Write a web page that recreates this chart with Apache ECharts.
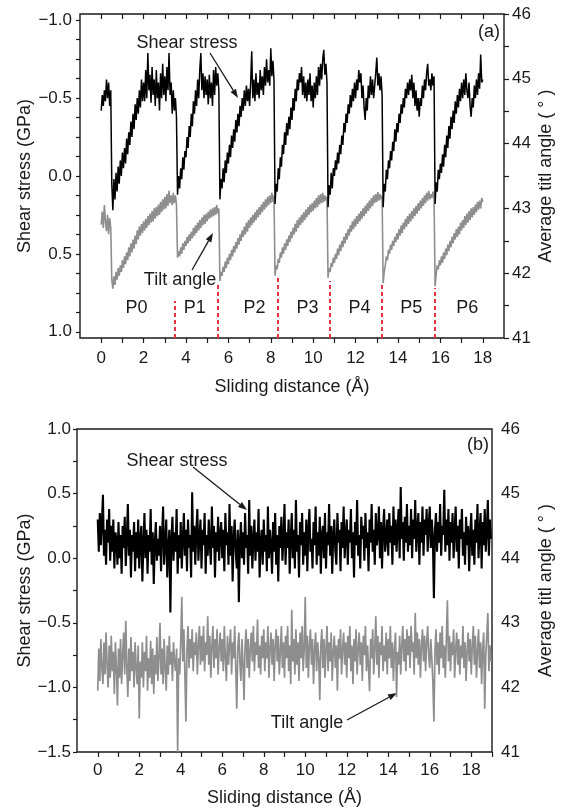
<!DOCTYPE html>
<html>
<head>
<meta charset="utf-8">
<script src="https://cdn.jsdelivr.net/npm/echarts@6/dist/echarts.min.js"></script>
<style>
  html, body { margin: 0; padding: 0; background: #fff; }
  #chart { width: 563px; height: 811px; }
</style>
</head>
<body>
<div id="chart"></div>
<script>
// panel (a): sampled every 0.05 Å from 0 to 18 (upper / lower edge of the noisy trace)
const stepA = 0.05;
// shear stress (GPa), panel (a)
const shearA = [
  -0.42, -0.52, -0.45, -0.55, -0.48, -0.62, -0.5, -0.6, -0.45, -0.55, 0.05, 0.22, 0.02, 0.15, -0.02, 0.1, -0.06, 0.05, -0.1, 0.0,
  -0.15, -0.05, -0.18, -0.08, -0.24, -0.14, -0.28, -0.2, -0.35, -0.25, -0.4, -0.3, -0.46, -0.36, -0.5, -0.4, -0.55, -0.44, -0.62, -0.48,
  -0.6, -0.48, -0.68, -0.5, -0.79, -0.55, -0.65, -0.47, -0.7, -0.52, -0.62, -0.45, -0.68, -0.5, -0.6, -0.42, -0.66, -0.5, -0.72, -0.52,
  -0.64, -0.48, -0.7, -0.55, -0.79, -0.52, -0.6, -0.4, -0.55, -0.42, -0.5, -0.38, 0.12, 0.0, 0.08, -0.05, 0.02, -0.12, -0.04, -0.16,
  -0.12, -0.25, -0.18, -0.32, -0.25, -0.4, -0.32, -0.48, -0.4, -0.55, -0.45, -0.62, -0.5, -0.68, -0.79, -0.55, -0.66, -0.5, -0.64, -0.52,
  -0.62, -0.46, -0.65, -0.5, -0.6, -0.45, -0.68, -0.52, -0.7, -0.58, -0.66, -0.55, 0.15, 0.02, 0.08, -0.05, 0.04, -0.1, -0.02, -0.15,
  -0.08, -0.2, -0.12, -0.26, -0.18, -0.3, -0.22, -0.36, -0.28, -0.4, -0.32, -0.45, -0.38, -0.5, -0.42, -0.55, -0.45, -0.58, -0.48, -0.56,
  -0.45, -0.6, -0.8, -0.5, -0.62, -0.48, -0.66, -0.52, -0.6, -0.5, -0.68, -0.55, -0.64, -0.52, -0.7, -0.58, -0.75, -0.6, -0.68, -0.58,
  -0.82, -0.64, -0.74, -0.62, 0.18, 0.05, 0.1, -0.05, 0.02, -0.12, -0.06, -0.2, -0.14, -0.28, -0.2, -0.34, -0.26, -0.38, -0.3, -0.44,
  -0.36, -0.5, -0.42, -0.56, -0.48, -0.62, -0.55, -0.66, -0.6, -0.7, -0.52, -0.64, -0.5, -0.6, -0.48, -0.62, -0.52, -0.66, -0.48, -0.58,
  -0.44, -0.6, -0.5, -0.64, -0.52, -0.7, -0.58, -0.72, -0.62, -0.75, -0.81, -0.65, -0.72, -0.6, 0.2, 0.06, 0.12, -0.02, 0.08, -0.05,
  0.0, -0.1, -0.04, -0.15, -0.08, -0.2, -0.14, -0.26, -0.2, -0.34, -0.28, -0.4, -0.34, -0.46, -0.4, -0.52, -0.44, -0.56, -0.48, -0.6,
  -0.5, -0.62, -0.55, -0.68, -0.6, -0.66, -0.5, -0.58, -0.44, -0.36, -0.5, -0.42, -0.58, -0.5, -0.64, -0.52, -0.62, -0.5, -0.58, -0.66,
  -0.76, -0.58, -0.66, -0.55, -0.64, -0.52, 0.2, 0.05, 0.1, -0.04, 0.02, -0.1, -0.05, -0.16, -0.1, -0.22, -0.16, -0.3, -0.22, -0.34,
  -0.28, -0.4, -0.34, -0.46, -0.4, -0.5, -0.44, -0.56, -0.5, -0.6, -0.52, -0.62, -0.55, -0.65, -0.5, -0.6, -0.45, -0.55, -0.42, -0.5,
  -0.38, -0.5, -0.45, -0.58, -0.5, -0.62, -0.55, -0.66, -0.72, -0.58, -0.62, -0.55, -0.66, -0.58, -0.64, 0.18, 0.04, 0.1, -0.04, 0.02,
  -0.08, -0.02, -0.14, -0.06, -0.2, -0.12, -0.26, -0.18, -0.32, -0.24, -0.38, -0.3, -0.42, -0.34, -0.48, -0.4, -0.52, -0.44, -0.56, -0.48,
  -0.6, -0.5, -0.62, -0.52, -0.66, -0.55, -0.5, -0.6, -0.45, -0.38, -0.5, -0.44, -0.58, -0.5, -0.62, -0.52, -0.66, -0.56, -0.78, -0.6,
  -0.62
];
// average tilt angle (deg), panel (a)
const tiltA = [
  42.75, 42.95, 42.7, 43.05, 42.8, 42.65, 42.9, 42.6, 42.85, 42.7, 41.9, 41.76, 41.95, 41.82, 42.02, 41.9, 42.08, 41.96, 42.12, 42.02,
  42.2, 42.08, 42.26, 42.14, 42.32, 42.2, 42.4, 42.26, 42.46, 42.32, 42.52, 42.38, 42.58, 42.45, 42.66, 42.52, 42.72, 42.58, 42.76, 42.62,
  42.8, 42.66, 42.84, 42.7, 42.88, 42.74, 42.92, 42.78, 42.96, 42.8, 43.0, 42.84, 43.02, 42.88, 43.06, 42.9, 43.1, 42.94, 43.14, 42.98,
  43.18, 43.0, 43.22, 43.04, 43.27, 43.08, 43.2, 43.05, 43.24, 43.08, 43.2, 43.06, 42.24, 42.34, 42.26, 42.4, 42.3, 42.46, 42.36, 42.5,
  42.42, 42.56, 42.46, 42.6, 42.5, 42.64, 42.54, 42.7, 42.58, 42.74, 42.62, 42.78, 42.66, 42.82, 42.7, 42.86, 42.74, 42.9, 42.76, 42.92,
  42.8, 42.95, 42.84, 42.98, 42.86, 43.0, 42.88, 43.02, 42.9, 43.05, 42.92, 43.0, 41.88, 42.02, 41.96, 42.1, 42.02, 42.18, 42.08, 42.24,
  42.14, 42.3, 42.2, 42.36, 42.26, 42.42, 42.32, 42.48, 42.38, 42.54, 42.44, 42.6, 42.5, 42.66, 42.56, 42.72, 42.6, 42.78, 42.64, 42.82,
  42.7, 42.86, 42.74, 42.9, 42.78, 42.94, 42.82, 42.98, 42.86, 43.02, 42.9, 43.06, 42.94, 43.1, 42.98, 43.14, 43.02, 43.18, 43.05, 43.2,
  43.08, 43.24, 43.1, 43.2, 41.96, 42.12, 42.06, 42.22, 42.16, 42.32, 42.24, 42.4, 42.3, 42.46, 42.36, 42.52, 42.42, 42.58, 42.48, 42.64,
  42.54, 42.7, 42.6, 42.76, 42.64, 42.82, 42.7, 42.86, 42.74, 42.9, 42.78, 42.94, 42.82, 42.98, 42.86, 43.02, 42.9, 43.06, 42.94, 43.08,
  42.96, 43.12, 43.0, 43.16, 43.02, 43.2, 43.06, 43.22, 43.08, 43.24, 43.1, 43.2, 43.12, 43.18, 41.93, 42.08, 42.02, 42.16, 42.1, 42.24,
  42.16, 42.3, 42.22, 42.38, 42.28, 42.44, 42.34, 42.5, 42.4, 42.56, 42.46, 42.62, 42.52, 42.68, 42.58, 42.74, 42.64, 42.8, 42.68, 42.84,
  42.72, 42.88, 42.76, 42.92, 42.8, 42.96, 42.84, 43.0, 42.88, 43.04, 42.92, 43.08, 42.96, 43.12, 43.0, 43.16, 43.04, 43.2, 43.08, 43.22,
  43.1, 43.25, 43.12, 43.22, 43.14, 43.2, 41.85, 42.02, 42.12, 42.26, 42.2, 42.36, 42.3, 42.44, 42.36, 42.5, 42.42, 42.56, 42.48, 42.62,
  42.52, 42.68, 42.58, 42.74, 42.62, 42.78, 42.68, 42.84, 42.72, 42.88, 42.76, 42.92, 42.8, 42.96, 42.84, 43.0, 42.88, 43.04, 42.92, 43.08,
  42.96, 43.12, 43.0, 43.16, 43.04, 43.2, 43.08, 43.24, 43.12, 43.27, 43.14, 43.22, 43.16, 43.26, 43.18, 41.8, 41.98, 42.12, 42.06, 42.2,
  42.12, 42.26, 42.16, 42.32, 42.22, 42.38, 42.28, 42.44, 42.34, 42.5, 42.4, 42.56, 42.46, 42.62, 42.52, 42.68, 42.56, 42.72, 42.6, 42.78,
  42.66, 42.82, 42.7, 42.88, 42.74, 42.92, 42.78, 42.96, 42.82, 43.0, 42.86, 43.02, 42.9, 43.06, 42.94, 43.1, 42.98, 43.12, 43.0, 43.16,
  43.1
];
// period boundaries (red dashed) and their tops (deg), period labels
const boundaryX = [3.46, 5.5, 8.33, 10.77, 13.25, 15.72];
const boundaryTop = [41.57, 41.84, 41.93, 41.88, 41.84, 41.77];
const periodNames = ['P0', 'P1', 'P2', 'P3', 'P4', 'P5', 'P6'];
const periodX = [1.67, 4.41, 7.23, 9.73, 12.18, 14.63, 17.27];
const periodY = 41.46;

// panel (b): sampled every 0.05 Å from 0
const stepB = 0.05;
const shearB = [
  0.30, 0.05, 0.35, 0.10, 0.28, 0.49, 0.02, 0.22, -0.05, 0.30, 0.12, 0.38, -0.02, 0.25, 0.05, 0.30, -0.08, 0.20, 0.15, -0.05,
  0.28, 0.00, 0.18, -0.12, 0.25, 0.08, 0.32, -0.06, 0.15, 0.42, 0.02, 0.22, -0.15, 0.18, 0.05, 0.28, -0.10, 0.20, 0.00, 0.30,
  -0.08, 0.15, 0.25, -0.18, 0.10, 0.35, 0.00, 0.22, -0.12, 0.18, 0.05, 0.38, -0.05, 0.20, -0.20, 0.12, 0.28, -0.02, 0.15, 0.02,
  0.25, -0.10, 0.18, 0.40, -0.05, 0.12, 0.30, -0.15, 0.08, 0.22, -0.42, 0.15, 0.32, -0.02, 0.20, 0.05, 0.38, -0.12, 0.18, 0.00,
  0.28, -0.08, 0.15, 0.35, 0.02, 0.22, -0.10, 0.30, 0.08, 0.18, -0.15, 0.51, 0.05, 0.25, -0.05, 0.20, 0.38, -0.02, 0.15, 0.30,
  -0.08, 0.22, 0.10, 0.35, -0.12, 0.18, 0.02, 0.30, 0.12, -0.05, 0.40, 0.08, 0.25, -0.15, 0.20, 0.05, 0.32, -0.02, 0.18, 0.28,
  0.00, 0.22, -0.10, 0.35, 0.10, 0.20, -0.05, 0.42, 0.02, 0.25, -0.18, 0.15, 0.30, 0.05, -0.08, 0.22, -0.34, 0.12, 0.28, 0.00,
  0.20, -0.05, 0.35, 0.08, 0.18, -0.12, 0.45, 0.02, 0.25, -0.08, 0.15, 0.30, -0.02, 0.20, 0.05, 0.38, -0.15, 0.12, 0.22, -0.05,
  0.30, 0.05, 0.18, -0.10, 0.40, 0.00, 0.22, 0.10, -0.12, 0.28, 0.05, 0.35, -0.05, 0.18, -0.18, 0.25, 0.08, 0.32, -0.02, 0.15,
  0.42, -0.05, 0.20, 0.08, 0.30, -0.12, 0.15, 0.35, 0.00, 0.22, -0.08, 0.45, 0.05, 0.18, -0.15, 0.28, 0.10, 0.35, -0.05, 0.20,
  0.02, 0.30, -0.10, 0.22, 0.38, 0.05, 0.15, -0.08, 0.28, 0.10, 0.40, -0.05, 0.20, 0.02, 0.32, -0.12, 0.18, 0.25, 0.00, 0.35,
  -0.08, 0.20, 0.10, 0.42, 0.02, 0.25, -0.12, 0.18, 0.30, 0.05, -0.05, 0.35, 0.12, 0.22, -0.10, 0.28, 0.08, 0.40, 0.00, 0.18,
  0.30, -0.05, 0.22, 0.12, 0.38, 0.00, 0.20, -0.15, 0.28, 0.10, 0.45, 0.02, 0.18, -0.08, 0.32, 0.15, 0.25, -0.02, 0.35, 0.08,
  0.20, -0.10, 0.30, 0.12, 0.42, 0.05, 0.22, -0.05, 0.35, 0.10, 0.18, 0.40, 0.00, 0.28, -0.08, 0.22, 0.38, 0.05, 0.15, 0.30,
  0.02, 0.35, 0.12, 0.25, -0.05, 0.40, 0.10, 0.30, 0.05, 0.22, 0.38, 0.00, 0.55, 0.15, 0.28, -0.02, 0.32, 0.12, 0.42, 0.05,
  0.25, 0.10, 0.38, 0.00, 0.30, 0.15, 0.45, 0.05, 0.22, 0.35, -0.05, 0.28, 0.12, 0.40, 0.02, 0.30, 0.18, 0.38, 0.05, 0.25,
  0.40, 0.08, 0.30, 0.15, -0.31, 0.22, 0.35, 0.05, 0.28, 0.12, 0.42, 0.02, 0.25, 0.18, 0.53, 0.05, 0.30, 0.10, 0.38, -0.02,
  0.28, 0.12, 0.35, 0.00, 0.22, 0.40, 0.05, 0.25, -0.08, 0.30, 0.15, 0.38, 0.02, 0.20, -0.05, 0.32, 0.10, 0.25, -0.10, 0.18,
  0.35, 0.02, 0.22, -0.05, 0.30, 0.12, 0.42, 0.00, 0.20, 0.35, -0.08, 0.28, 0.10, 0.38, 0.05, 0.22, 0.45, 0.02, 0.30, 0.15
];
const tiltB = [
  41.95, 42.60, 42.10, 42.75, 42.30, 42.05, 42.70, 42.20, 42.85, 42.35, 42.00, 42.65, 42.15, 42.80, 42.25, 42.55, 41.90, 42.70, 42.30, 41.72,
  42.60, 42.15, 42.75, 42.05, 42.50, 42.85, 42.20, 43.03, 42.35, 41.85, 42.60, 42.10, 42.78, 42.25, 42.55, 42.00, 42.70, 42.30, 42.05, 42.65,
  41.52, 42.40, 42.15, 42.70, 42.00, 42.55, 42.25, 42.80, 41.95, 42.45, 42.15, 42.72, 42.05, 42.60, 41.90, 42.50, 42.20, 42.78, 42.10, 42.45,
  43.00, 42.20, 42.60, 42.05, 42.75, 42.30, 41.95, 42.65, 42.20, 42.80, 42.35, 42.55, 42.10, 42.70, 42.40, 42.25, 42.60, 41.00, 42.45, 42.20,
  42.70, 43.40, 42.40, 42.90, 42.20, 41.47, 42.60, 42.95, 42.30, 42.75, 42.45, 42.90, 42.25, 42.70, 42.50, 42.85, 42.20, 42.65, 42.95, 42.35,
  42.80, 42.40, 42.95, 42.25, 42.70, 42.50, 43.10, 42.35, 42.80, 42.15, 42.65, 42.95, 42.30, 42.75, 42.45, 42.90, 42.20, 42.60, 42.85, 42.40,
  42.75, 42.25, 42.95, 42.45, 42.10, 42.80, 42.35, 42.65, 42.90, 42.20, 42.70, 42.45, 42.95, 42.30, 41.67, 42.60, 42.85, 42.40, 42.10, 42.75,
  42.35, 41.80, 42.65, 42.90, 42.30, 42.75, 42.15, 42.60, 42.85, 42.40, 42.95, 42.25, 42.70, 42.50, 43.05, 42.30, 42.65, 42.20, 42.80, 42.45,
  42.90, 42.25, 42.70, 42.45, 42.95, 42.15, 42.60, 42.85, 42.35, 42.75, 42.10, 42.65, 42.90, 42.40, 42.80, 42.20, 42.55, 42.95, 42.30, 42.70,
  42.15, 42.80, 42.45, 42.95, 42.25, 42.65, 42.05, 43.20, 42.40, 42.75, 42.20, 42.90, 42.35, 42.70, 42.10, 42.85, 42.45, 42.95, 42.25, 42.60,
  43.40, 42.30, 42.80, 42.15, 42.65, 42.90, 42.35, 42.75, 42.05, 42.60, 42.85, 42.25, 42.70, 42.45, 41.80, 42.65, 42.90, 42.30, 42.75, 42.15,
  42.60, 42.95, 42.25, 42.70, 42.40, 42.85, 42.10, 42.55, 42.80, 42.30, 42.65, 41.95, 42.75, 42.45, 42.90, 42.20, 42.60, 42.85, 42.35, 42.70,
  42.15, 42.80, 42.45, 42.95, 42.25, 42.65, 42.05, 42.75, 42.40, 42.90, 42.20, 42.60, 42.85, 42.35, 42.70, 42.10, 42.80, 42.50, 42.95, 42.25,
  42.65, 42.30, 41.94, 42.75, 42.45, 42.90, 42.20, 42.60, 43.10, 42.35, 42.80, 42.15, 42.70, 42.50, 42.95, 42.25, 42.65, 42.40, 42.85, 42.20,
  42.75, 42.45, 42.95, 42.30, 42.70, 42.10, 42.60, 42.85, 41.85, 42.55, 42.35, 42.80, 42.20, 42.65, 42.95, 42.40, 42.75, 42.25, 42.90, 42.50,
  42.80, 42.30, 42.95, 42.55, 42.70, 42.20, 43.15, 42.45, 42.85, 42.35, 42.75, 42.15, 42.65, 42.90, 42.40, 42.80, 42.25, 42.70, 42.95, 42.50,
  42.30, 42.75, 42.45, 42.10, 41.47, 42.55, 42.90, 42.35, 42.70, 42.20, 42.85, 42.45, 42.95, 42.30, 42.65, 42.15, 42.75, 43.35, 42.40, 42.80,
  42.25, 42.70, 42.50, 42.90, 42.15, 42.60, 42.85, 42.35, 42.75, 42.20, 42.65, 42.45, 42.95, 42.30, 42.70, 42.10, 42.55, 42.85, 42.40, 42.75,
  42.20, 42.65, 42.95, 42.35, 42.80, 42.15, 42.55, 42.90, 42.30, 42.70, 42.05, 42.60, 42.85, 41.67, 42.50, 42.80, 43.15, 42.25, 42.65, 42.40
];

// tick values / labels
const xLabelsA = [0, 2, 4, 6, 8, 10, 12, 14, 16, 18];
const xTicksA = [0, 1, 2, 3, 4, 5, 6, 7, 8, 9, 10, 11, 12, 13, 14, 15, 16, 17, 18];
const xTicksB = [0, 1, 2, 3, 4, 5, 6, 7, 8, 9, 10, 11, 12, 13, 14, 15, 16, 17, 18, 19];
const shearLabelsA = [-1, -0.5, 0, 0.5, 1];
const shearTicksA = [-1, -0.875, -0.75, -0.625, -0.5, -0.375, -0.25, -0.125, 0, 0.125, 0.25, 0.375, 0.5, 0.625, 0.75, 0.875, 1];
const shearLabelsB = [-1.5, -1, -0.5, 0, 0.5, 1];
const shearTicksB = [-1.5, -1.25, -1, -0.75, -0.5, -0.25, 0, 0.25, 0.5, 0.75, 1];
const angleLabels = [41, 42, 43, 44, 45, 46];
const angleTicksA = [41, 41.5, 42, 42.5, 43, 43.5, 44, 44.5, 45, 45.5, 46];

const toPairs = (vals, step) => vals.map((v, i) => [+(i * step).toFixed(2), v]);
const fmtGPa = v => (v < 0 ? '\u2212' : '') + Math.abs(v).toFixed(1);

const FONT = "'Liberation Sans', Arial, sans-serif";
const INK = '#1a1a1a';

function arrow(x1, y1, x2, y2) {
  const a = Math.atan2(y2 - y1, x2 - x1), L = 9, W = 3.2;
  const bx = x2 - L * Math.cos(a), by = y2 - L * Math.sin(a);
  return [
    { type: 'line', shape: { x1: x1, y1: y1, x2: bx, y2: by }, style: { stroke: INK, lineWidth: 1.3 } },
    { type: 'polygon', shape: { points: [[x2, y2], [bx + W * Math.sin(a), by - W * Math.cos(a)], [bx - W * Math.sin(a), by + W * Math.cos(a)]] }, style: { fill: INK } }
  ];
}
function label(text, x, y) {
  return { type: 'text', x: x, y: y, style: { text: text, fontSize: 18, fontFamily: FONT, fill: INK, align: 'center', verticalAlign: 'middle', textAlign: 'center', textVerticalAlign: 'middle' } };
}

const tickStyle = { lineStyle: { color: INK, width: 1.2 } };
const noLine = { show: false, onZero: false };
const axisLabelBase = { color: INK, fontSize: 17, fontFamily: FONT };
const nameStyle = { color: INK, fontSize: 18, fontFamily: FONT };

let chart = echarts.init(document.getElementById('chart'), null, { renderer: 'canvas' });
let option = {
  animation: false,
  backgroundColor: '#fff',
  textStyle: { fontFamily: FONT },
  grid: [
    { left: 80, right: 58, top: 14, bottom: 473, show: true, borderColor: INK, borderWidth: 1.4, backgroundColor: 'transparent' },
    { left: 77, right: 70, top: 429, bottom: 59, show: true, borderColor: INK, borderWidth: 1.4, backgroundColor: 'transparent' }
  ],
  xAxis: [
    {
      gridIndex: 0, type: 'value', min: -1, max: 19, position: 'bottom',
      axisLine: noLine, splitLine: { show: false },
      axisTick: Object.assign({ show: true, inside: false, length: 5, customValues: xTicksA }, tickStyle),
      axisLabel: Object.assign({ margin: 12, customValues: xLabelsA }, axisLabelBase),
      name: 'Sliding distance (\u00c5)', nameLocation: 'middle', nameGap: 40, nameTextStyle: nameStyle
    },
    {
      gridIndex: 0, type: 'value', min: -1, max: 19, position: 'top',
      axisLine: noLine, splitLine: { show: false },
      axisTick: Object.assign({ show: true, inside: true, length: 5, customValues: xTicksA }, tickStyle),
      axisLabel: { show: false }
    },
    {
      gridIndex: 1, type: 'value', min: -1, max: 19, position: 'bottom',
      axisLine: noLine, splitLine: { show: false },
      axisTick: Object.assign({ show: true, inside: false, length: 5, customValues: xTicksB }, tickStyle),
      axisLabel: Object.assign({ margin: 10, customValues: xLabelsA }, axisLabelBase),
      name: 'Sliding distance (\u00c5)', nameLocation: 'middle', nameGap: 37, nameTextStyle: nameStyle
    }
  ],
  yAxis: [
    {
      gridIndex: 0, type: 'value', inverse: true, min: -1.04, max: 1.04, position: 'left',
      axisLine: noLine, splitLine: { show: false },
      axisTick: Object.assign({ show: true, inside: false, length: 4, customValues: shearTicksA }, tickStyle),
      axisLabel: Object.assign({ margin: 8, customValues: shearLabelsA, formatter: fmtGPa }, axisLabelBase),
      name: 'Shear stress (GPa)', nameLocation: 'middle', nameRotate: 90, nameGap: 46, nameMoveOverlap: false, nameTextStyle: nameStyle
    },
    {
      gridIndex: 0, type: 'value', min: 41, max: 46, position: 'right',
      axisLine: noLine, splitLine: { show: false },
      axisTick: Object.assign({ show: true, inside: false, length: 5, customValues: angleTicksA }, tickStyle),
      axisLabel: Object.assign({ margin: 8, customValues: angleLabels }, axisLabelBase),
      name: 'Average titl angle ( \u00b0 )', nameLocation: 'middle', nameRotate: 90, nameGap: 33, nameMoveOverlap: false, nameTextStyle: nameStyle
    },
    {
      gridIndex: 1, type: 'value', min: -1.5, max: 1.0, position: 'left',
      axisLine: noLine, splitLine: { show: false },
      axisTick: Object.assign({ show: true, inside: false, length: 4, customValues: shearTicksB }, tickStyle),
      axisLabel: Object.assign({ margin: 6, customValues: shearLabelsB, formatter: fmtGPa }, axisLabelBase),
      name: 'Shear stress (GPa)', nameLocation: 'middle', nameRotate: 90, nameGap: 43, nameMoveOverlap: false, nameTextStyle: nameStyle
    },
    {
      gridIndex: 1, type: 'value', min: 41, max: 46, position: 'right',
      axisLine: noLine, splitLine: { show: false },
      axisTick: { show: false },
      axisLabel: Object.assign({ margin: 9, customValues: angleLabels }, axisLabelBase),
      name: 'Average titl angle ( \u00b0 )', nameLocation: 'middle', nameRotate: 90, nameGap: 45, nameMoveOverlap: false, nameTextStyle: nameStyle
    }
  ],
  series: [
    {
      name: 'Tilt angle (a)', type: 'line', xAxisIndex: 0, yAxisIndex: 1,
      data: toPairs(tiltA, stepA), showSymbol: false, z: 2,
      lineStyle: { color: '#8e8e8e', width: 1.6 }, itemStyle: { color: '#8e8e8e' },
      markLine: {
        silent: true, symbol: ['none', 'none'], label: { show: false },
        lineStyle: { color: '#e8333f', type: [4, 3], width: 2 },
        data: boundaryX.map((x, i) => [{ coord: [x, 41] }, { coord: [x, boundaryTop[i]] }])
      },
      markPoint: {
        silent: true, symbol: 'rect', symbolSize: 1, itemStyle: { color: 'rgba(0,0,0,0)' },
        label: { show: true, position: 'inside', formatter: '{b}', color: INK, fontSize: 18, fontFamily: FONT },
        data: periodNames.map((n, i) => ({ name: n, coord: [periodX[i], periodY] }))
      }
    },
    {
      name: 'Shear stress (a)', type: 'line', xAxisIndex: 0, yAxisIndex: 0,
      data: toPairs(shearA, stepA), showSymbol: false, z: 3,
      lineStyle: { color: '#000', width: 1.5 }, itemStyle: { color: '#000' }
    },
    {
      name: 'Shear stress (b)', type: 'line', xAxisIndex: 2, yAxisIndex: 2,
      data: toPairs(shearB, stepB), showSymbol: false, z: 3,
      lineStyle: { color: '#000', width: 2.1 }, itemStyle: { color: '#000' }
    },
    {
      name: 'Tilt angle (b)', type: 'line', xAxisIndex: 2, yAxisIndex: 3,
      data: toPairs(tiltB, stepB), showSymbol: false, z: 2,
      lineStyle: { color: '#8e8e8e', width: 1.7 }, itemStyle: { color: '#8e8e8e' }
    }
  ],
  graphic: [
    label('Shear stress', 187, 43),
    ...arrow(210, 53, 238, 98),
    label('(a)', 489, 32),
    label('Tilt angle', 180, 280),
    ...arrow(192, 270, 213, 233),
    label('Shear stress', 177, 461),
    ...arrow(193, 467, 247, 510),
    label('(b)', 478, 445),
    label('Tilt angle', 307, 723),
    ...arrow(347, 720, 397, 693)
  ]
};
chart.setOption(option);
</script>
</body>
</html>
